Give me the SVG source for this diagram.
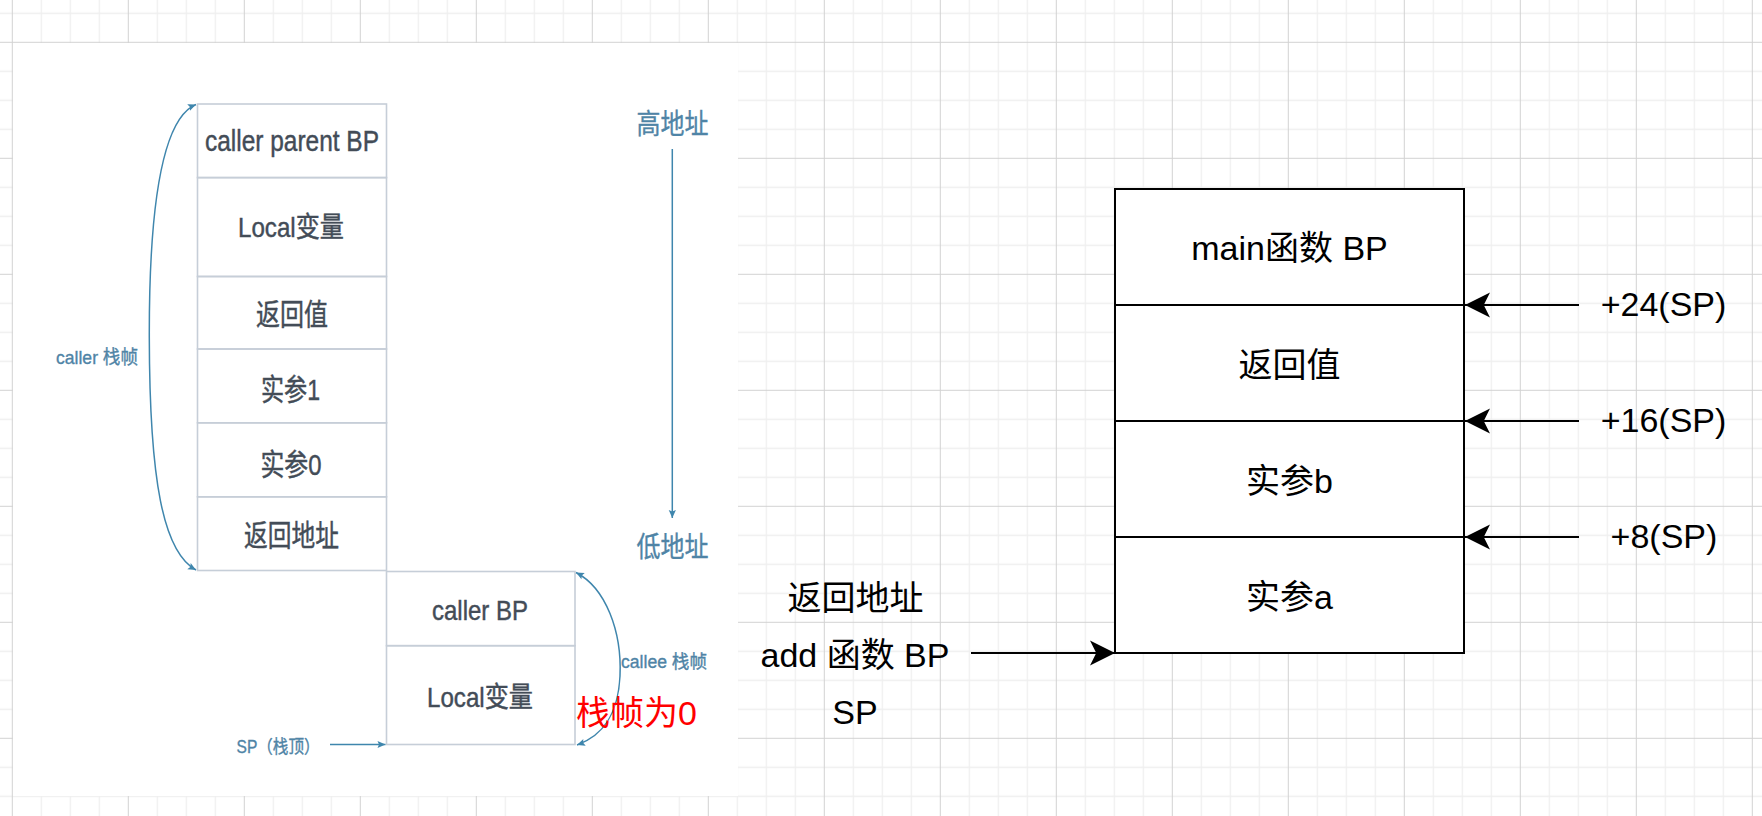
<svg xmlns="http://www.w3.org/2000/svg" width="1762" height="816" viewBox="0 0 1762 816">
<style>
  text { font-family: 'Liberation Sans', 'Noto Sans CJK SC', sans-serif; }
  .img-box { fill: none; stroke: #c6ced8; stroke-width: 1.6; }
  .img-txt { fill: #434c57; stroke: #434c57; stroke-width: 0.45; text-anchor: middle; }
  .img-lbl { fill: #4f84a6; stroke: #4f84a6; stroke-width: 0.35; text-anchor: middle; }
  .img-arrow { fill: none; stroke: #3f86ad; stroke-width: 1.5; }
  .box { fill: #ffffff; stroke: #000000; stroke-width: 2; }
  .txt { fill: #000000; font-size: 34px; text-anchor: middle; }
  .conn { fill: none; stroke: #000000; stroke-width: 2; }
</style>
<defs>
  <pattern id="grid" x="11.8" y="41.8" width="116" height="116" patternUnits="userSpaceOnUse">
    <g stroke="#efefef" stroke-width="1.3">
      <line x1="29.5" y1="0" x2="29.5" y2="116"/>
      <line x1="58.5" y1="0" x2="58.5" y2="116"/>
      <line x1="87.5" y1="0" x2="87.5" y2="116"/>
      <line x1="0" y1="29.5" x2="116" y2="29.5"/>
      <line x1="0" y1="58.5" x2="116" y2="58.5"/>
      <line x1="0" y1="87.5" x2="116" y2="87.5"/>
    </g>
    <g stroke="#d2d2d2" stroke-width="1">
      <line x1="0.5" y1="0" x2="0.5" y2="116"/>
      <line x1="0" y1="0.5" x2="116" y2="0.5"/>
    </g>
  </pattern>
  <marker id="classic" viewBox="-26 -13 27 26" markerWidth="27" markerHeight="26" refX="0" refY="0" orient="auto" markerUnits="userSpaceOnUse">
    <path d="M0,0 L-25,-12.5 L-18.75,0 L-25,12.5 Z" fill="#000000"/>
  </marker>
  <marker id="small" viewBox="-9 -5 10 10" markerWidth="10" markerHeight="10" refX="0" refY="0" orient="auto-start-reverse" markerUnits="userSpaceOnUse">
    <path d="M0,0 L-8,-3.6 L-6.5,0 L-8,3.6 Z" fill="#3f86ad"/>
  </marker>
</defs>

<rect x="0" y="0" width="1762" height="816" fill="#ffffff"/>
<rect x="0" y="0" width="1762" height="816" fill="url(#grid)"/>

<!-- pasted reference picture (left) -->
<g id="left-picture">
  <rect x="13" y="43" width="725" height="753" fill="#ffffff"/>

  <g id="caller-parent-bp">
    <rect class="img-box" x="197.5" y="104" width="189" height="73.6"/>
    <text class="img-txt" x="292" y="151" font-size="30" textLength="174" lengthAdjust="spacingAndGlyphs">caller parent BP</text>
  </g>
  <g id="caller-local">
    <rect class="img-box" x="197.5" y="177.6" width="189" height="98.9"/>
    <text class="img-txt" x="291" y="237" font-size="28" textLength="106" lengthAdjust="spacingAndGlyphs">Local变量</text>
  </g>
  <g id="caller-ret">
    <rect class="img-box" x="197.5" y="276.5" width="189" height="72.5"/>
    <text class="img-txt" x="292" y="325" font-size="30" textLength="72" lengthAdjust="spacingAndGlyphs">返回值</text>
  </g>
  <g id="caller-arg1">
    <rect class="img-box" x="197.5" y="349" width="189" height="73.8"/>
    <text class="img-txt" x="290.5" y="400" font-size="30" textLength="59" lengthAdjust="spacingAndGlyphs">实参1</text>
  </g>
  <g id="caller-arg0">
    <rect class="img-box" x="197.5" y="422.8" width="189" height="74"/>
    <text class="img-txt" x="291" y="475" font-size="30" textLength="61" lengthAdjust="spacingAndGlyphs">实参0</text>
  </g>
  <g id="caller-retaddr">
    <rect class="img-box" x="197.5" y="496.8" width="189" height="73.7"/>
    <text class="img-txt" x="291.5" y="546" font-size="30" textLength="95" lengthAdjust="spacingAndGlyphs">返回地址</text>
  </g>
  <g id="callee-bp">
    <rect class="img-box" x="386.5" y="571.5" width="188.5" height="74.2"/>
    <text class="img-txt" x="480" y="620" font-size="28" textLength="96" lengthAdjust="spacingAndGlyphs">caller BP</text>
  </g>
  <g id="callee-local">
    <rect class="img-box" x="386.5" y="645.7" width="188.5" height="98.8"/>
    <text class="img-txt" x="480" y="707" font-size="28" textLength="106" lengthAdjust="spacingAndGlyphs">Local变量</text>
  </g>

  <g id="label-caller-frame">
    <text class="img-lbl" x="97" y="364" font-size="19" textLength="82" lengthAdjust="spacingAndGlyphs">caller 栈帧</text>
  </g>
  <g id="label-callee-frame">
    <text class="img-lbl" x="664" y="668" font-size="18" textLength="86" lengthAdjust="spacingAndGlyphs">callee 栈帧</text>
  </g>
  <g id="label-sp-top">
    <text class="img-lbl" x="278" y="753" font-size="18" textLength="83" lengthAdjust="spacingAndGlyphs">SP（栈顶）</text>
  </g>
  <g id="label-high">
    <text class="img-lbl" x="672.5" y="134" font-size="28" textLength="72" lengthAdjust="spacingAndGlyphs" fill="#4a7896" stroke="#4a7896">高地址</text>
  </g>
  <g id="label-low">
    <text class="img-lbl" x="672.5" y="557" font-size="28" textLength="72" lengthAdjust="spacingAndGlyphs" fill="#4a7896" stroke="#4a7896">低地址</text>
  </g>

  <g id="left-connectors">
    <path class="img-arrow" d="M196,104.5 C163,118 149,200 149.3,337 C149.5,480 163,552 196,570" marker-start="url(#small)" marker-end="url(#small)"/>
    <path class="img-arrow" d="M576,572.5 C606,588 622,632 620,676 C618,716 602,736 577,745" marker-start="url(#small)" marker-end="url(#small)"/>
    <line class="img-arrow" x1="672.3" y1="149" x2="672.3" y2="518" marker-end="url(#small)"/>
    <line class="img-arrow" x1="330" y1="744.5" x2="385.5" y2="744.5" marker-end="url(#small)"/>
  </g>
</g>

<g id="zero-frame-note">
  <text x="576" y="725" font-size="34" fill="#ff0000">栈帧为0</text>
</g>

<!-- right stack -->
<g id="main-bp">
  <rect class="box" x="1115" y="189" width="349" height="116"/>
  <text class="txt" x="1289.5" y="260">main函数 BP</text>
</g>
<g id="ret-value">
  <rect class="box" x="1115" y="305" width="349" height="116"/>
  <text class="txt" x="1289.5" y="377">返回值</text>
</g>
<g id="arg-b">
  <rect class="box" x="1115" y="421" width="349" height="116"/>
  <text class="txt" x="1289.5" y="493">实参b</text>
</g>
<g id="arg-a">
  <rect class="box" x="1115" y="537" width="349" height="116"/>
  <text class="txt" x="1289.5" y="609">实参a</text>
</g>

<g id="label-24">
  <text class="txt" x="1663.5" y="316">+24(SP)</text>
</g>
<g id="label-16">
  <text class="txt" x="1663.5" y="432">+16(SP)</text>
</g>
<g id="label-8">
  <text class="txt" x="1664" y="548">+8(SP)</text>
</g>
<g id="label-left">
  <text class="txt" x="855.5" y="609.5">返回地址</text>
  <text class="txt" x="855" y="666.5">add 函数 BP</text>
  <text class="txt" x="855" y="724">SP</text>
</g>

<g id="connectors">
  <line class="conn" x1="1579" y1="305" x2="1465" y2="305" marker-end="url(#classic)"/>
  <line class="conn" x1="1579" y1="421" x2="1465" y2="421" marker-end="url(#classic)"/>
  <line class="conn" x1="1579" y1="537" x2="1465" y2="537" marker-end="url(#classic)"/>
  <line class="conn" x1="971" y1="653" x2="1115" y2="653" marker-end="url(#classic)"/>
</g>
</svg>
